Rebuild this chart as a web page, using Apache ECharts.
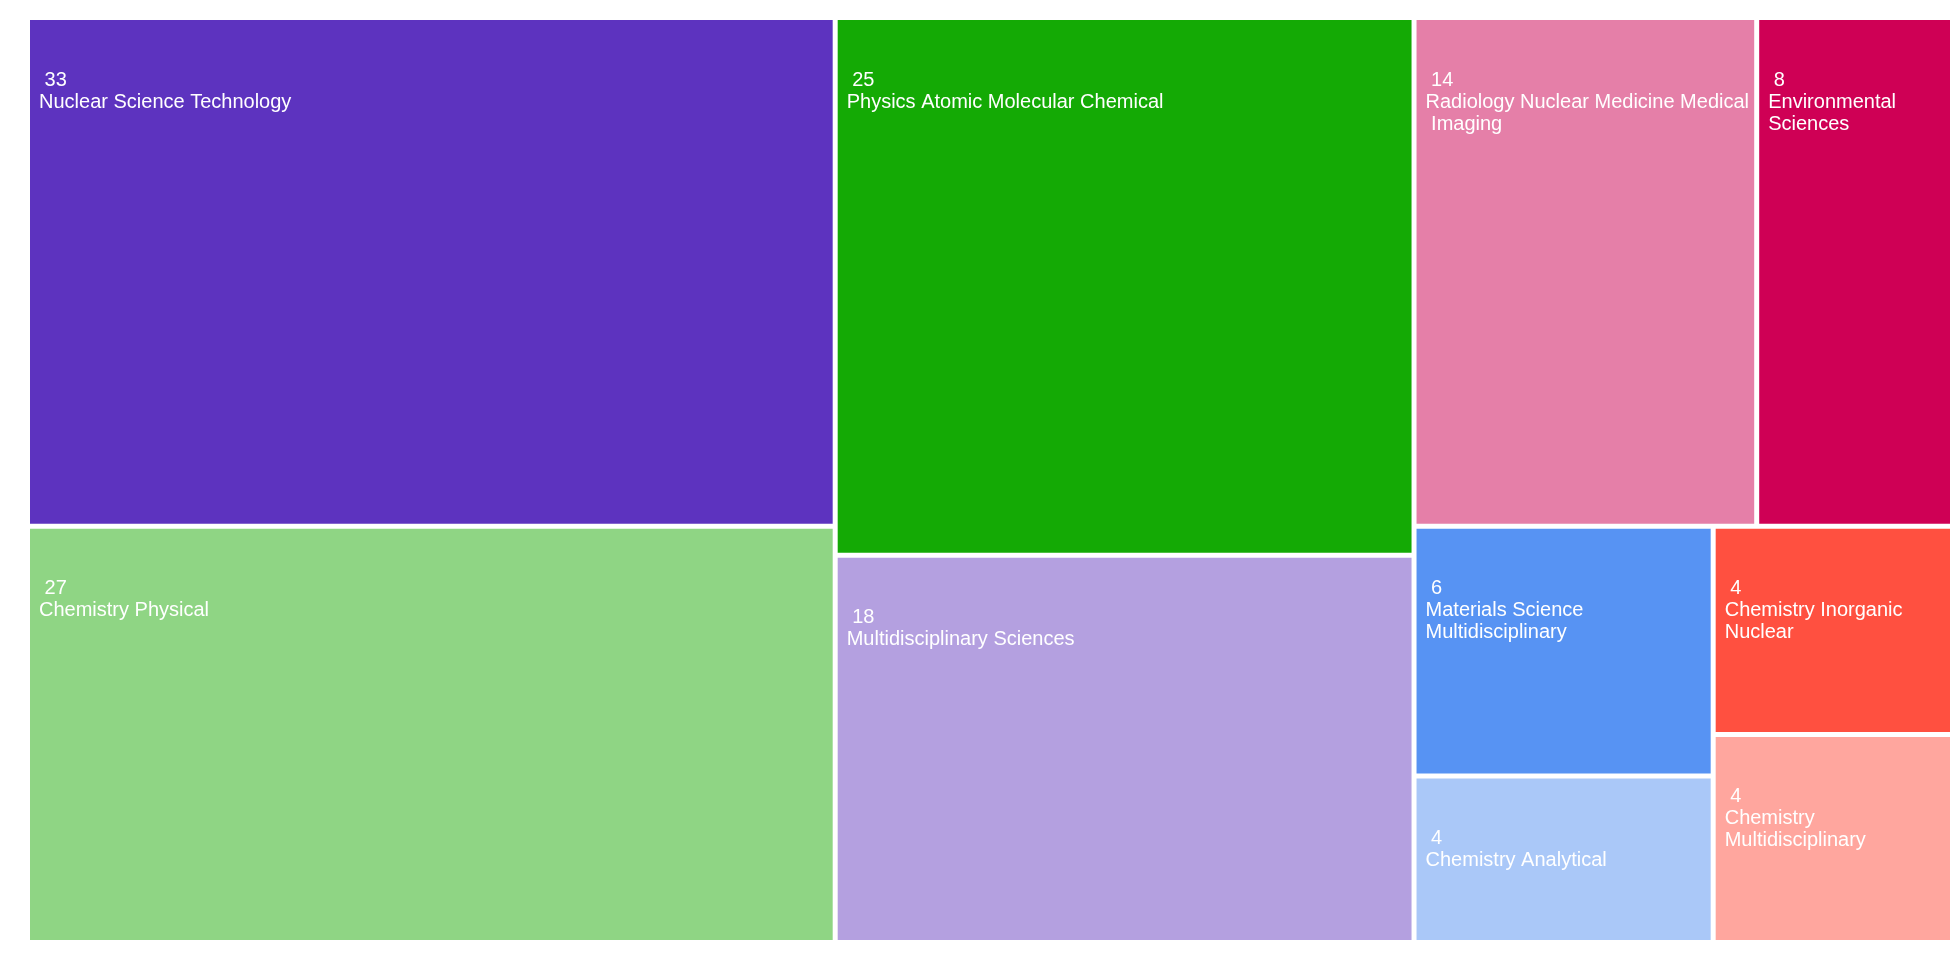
<!DOCTYPE html>
<html>
<head>
<meta charset="utf-8">
<title>Treemap</title>
<script src="https://cdn.jsdelivr.net/npm/echarts@6/dist/echarts.min.js"></script>
<style>
  html, body { margin: 0; padding: 0; background: #fff; }
  #chart { width: 1960px; height: 960px; }
</style>
</head>
<body>
<div id="chart"></div>
<script>
const categories = [
  "Nuclear Science Technology",
  "Chemistry Physical",
  "Physics Atomic Molecular Chemical",
  "Multidisciplinary Sciences",
  "Radiology Nuclear Medicine Medical Imaging",
  "Environmental Sciences",
  "Materials Science Multidisciplinary",
  "Chemistry Multidisciplinary",
  "Chemistry Inorganic Nuclear",
  "Chemistry Analytical"
];
const counts = [33, 27, 25, 18, 14, 8, 6, 4, 4, 4];
const colors = [
  "#5d33bf", "#8fd584", "#14aa05", "#b4a0e0", "#e57fa8",
  "#cf0055", "#5793f3", "#ffa69e", "#ff5040", "#aac8f8"
];

const chart = echarts.init(document.getElementById("chart"));
chart.setOption({
  animation: false,
  series: [
    {
      type: "treemap",
      left: 30,
      top: 20,
      width: 1920,
      height: 920,
      roam: false,
      nodeClick: false,
      breadcrumb: { show: false },
      label: {
        show: true,
        position: "insideTopLeft",
        color: "#fff",
        fontSize: 20,
        lineHeight: 22,
        fontFamily: "Liberation Sans, Arial, sans-serif",
        overflow: "break",
        offset: [4, 0],
        formatter: "\n\n {c}\n{b}",
      },
      levels: [
        { itemStyle: { gapWidth: 5, borderWidth: 0 } },
      ],
      itemStyle: { borderWidth: 0 },
      data: categories.map((name, i) => ({
        name: name,
        value: counts[i],
        itemStyle: { color: colors[i] },
      })),
    },
  ],
});
window.addEventListener("resize", () => chart.resize());
</script>
</body>
</html>
